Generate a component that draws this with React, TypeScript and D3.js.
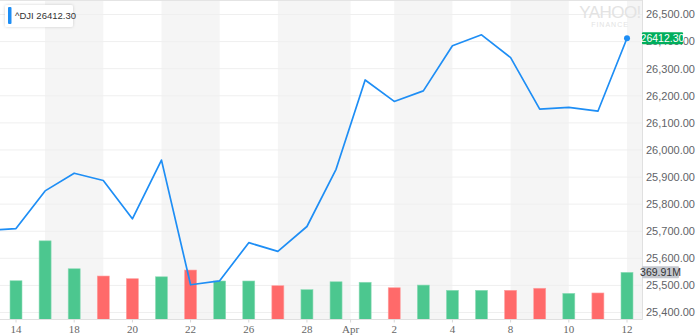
import React from "react";
import * as d3 from "d3";

const W = 696;
const H = 336;

// trading days; index 0 = Mar 14; Mar 13 is the point just off the left edge
const dates = ["Mar 13","Mar 14","Mar 15","Mar 18","Mar 19","Mar 20","Mar 21","Mar 22","Mar 25","Mar 26","Mar 27","Mar 28","Mar 29","Apr 1","Apr 2","Apr 3","Apr 4","Apr 5","Apr 8","Apr 9","Apr 10","Apr 11","Apr 12"];
const closes = [25702.89,25709.94,25848.87,25914.10,25887.38,25745.67,25962.51,25502.32,25516.83,25657.73,25625.59,25717.46,25928.68,26258.42,26179.13,26218.13,26384.63,26424.99,26341.02,26150.58,26157.16,26143.05,26412.30];
const volumesM = [300,304,617,398,341,320,335,388,302,302,265,234,296,292,249,270,229,229,229,245,205,208,369.91];
const volumeUp = [true,true,true,true,false,false,true,false,true,true,false,true,true,true,false,true,true,true,false,false,true,false,true];

const xTickIdx = [0,2,4,6,8,10,11.5,13,15,17,19,21];
const xTickLabels = ["14","18","20","22","26","28","Apr","2","4","8","10","12"];
const stripeRanges = [[1,3],[5,7],[9,11.5],[13,15],[17,19],[21,23]];
const yTicks = [25400,25500,25600,25700,25800,25900,26000,26100,26200,26300,26400,26500];

export default function App() {
  const plotRight = 642.5;
  const plotBottom = 319.5;
  const x = d3.scaleLinear().domain([0, 21]).range([16, 627]);
  const y = d3.scaleLinear().domain([25400, 26500]).range([312.5, 14.5]);
  const yv = d3.scaleLinear().domain([0, 800]).range([plotBottom, plotBottom - 102]);
  const idx = (i: number) => i - 1; // data index -> day index
  const line = d3.line<number>().x((_, i) => x(idx(i))).y((d) => y(d));
  const fmt = d3.format(",.2f");
  const last = closes.length - 1;
  const barW = 12;

  return (
    <svg width={W} height={H} style={{ position: "absolute", left: 0, top: 0, background: "#fff" }}
      fontFamily="'Liberation Sans', Arial, sans-serif">
      <defs>
        <clipPath id="plot"><rect x={0} y={0} width={plotRight} height={plotBottom} /></clipPath>
        <filter id="sh" x="-20%" y="-40%" width="140%" height="180%">
          <feDropShadow dx="0" dy="0" stdDeviation="1.5" floodColor="#000" floodOpacity="0.18" />
        </filter>
      </defs>
      <g clipPath="url(#plot)">
        {stripeRanges.map(([a, b], i) => (
          <rect key={i} x={x(a)} y={0} width={x(b) - x(a)} height={plotBottom} fill="#f5f5f5" />
        ))}
        {yTicks.map((t) => (
          <line key={t} x1={0} x2={plotRight} y1={y(t)} y2={y(t)} stroke="#efefef" strokeWidth={1} />
        ))}
        <line x1={0} x2={plotRight} y1={0.5} y2={0.5} stroke="#e4e4e4" />
        {volumesM.map((v, i) => (
          <rect key={i} x={x(idx(i)) - barW / 2} y={yv(v)} width={barW} height={plotBottom - yv(v)}
            fill={volumeUp[i] ? "#4cc78f" : "#ff6a6a"} stroke={volumeUp[i] ? "#8fdcb8" : "#ffa0a0"} strokeWidth={0.6} />
        ))}
        <path d={line(closes) || ""} fill="none" stroke="#1e8ef5" strokeWidth={1.7} strokeLinejoin="round" />
        <circle cx={x(idx(last))} cy={y(closes[last])} r={3} fill="#1e8ef5" />
      </g>
      {/* watermark */}
      <text x={610} y={18} textAnchor="middle" fontSize={17} fill="#e3e3e3" letterSpacing={-0.6}>YAHOO!</text>
      <text x={610} y={27} textAnchor="middle" fontSize={7} fill="#e3e3e3" letterSpacing={1}>FINANCE</text>
      {/* axes */}
      <line x1={plotRight} x2={plotRight} y1={0} y2={plotBottom} stroke="#e0e0e0" />
      <line x1={0} x2={plotRight} y1={plotBottom} y2={plotBottom} stroke="#e0e0e0" />
      {yTicks.map((t) => (
        <text key={t} x={646} y={y(t)} dy="0.35em" fontSize={11} fill="#5f6368">{fmt(t)}</text>
      ))}
      {xTickIdx.map((t, i) => (
        <g key={i}>
          <line x1={x(t)} x2={x(t)} y1={plotBottom} y2={plotBottom + 3} stroke="#d8d8d8" />
          <text x={x(t)} y={333} textAnchor="middle" fontSize={11} fill="#666" fontFamily="'Liberation Serif', 'DejaVu Serif', serif">{xTickLabels[i]}</text>
        </g>
      ))}
      {/* price tag */}
      <rect x={642} y={y(closes[last]) - 6} width={41} height={12} fill="#00ae5c" rx={1} />
      <text x={662.5} y={y(closes[last])} dy="0.35em" textAnchor="middle" fontSize={10.5} fill="#fff">{closes[last].toFixed(2)}</text>
      {/* volume tag */}
      <rect x={642} y={yv(volumesM[last]) - 6} width={37} height={12} fill="#c5c8cf" rx={1} />
      <text x={660.5} y={yv(volumesM[last])} dy="0.35em" textAnchor="middle" fontSize={10.5} fill="#333">{volumesM[last].toFixed(2)}M</text>
      {/* legend */}
      <rect x={5} y={5} width={68} height={22} fill="#fff" rx={2} filter="url(#sh)" />
      <rect x={8} y={7} width={3.5} height={17} fill="#1e8ef5" rx={1} />
      <text x={15} y={16} dy="0.35em" fontSize={9.5} fill="#333">^DJI  {closes[last].toFixed(2)}</text>
    </svg>
  );
}
